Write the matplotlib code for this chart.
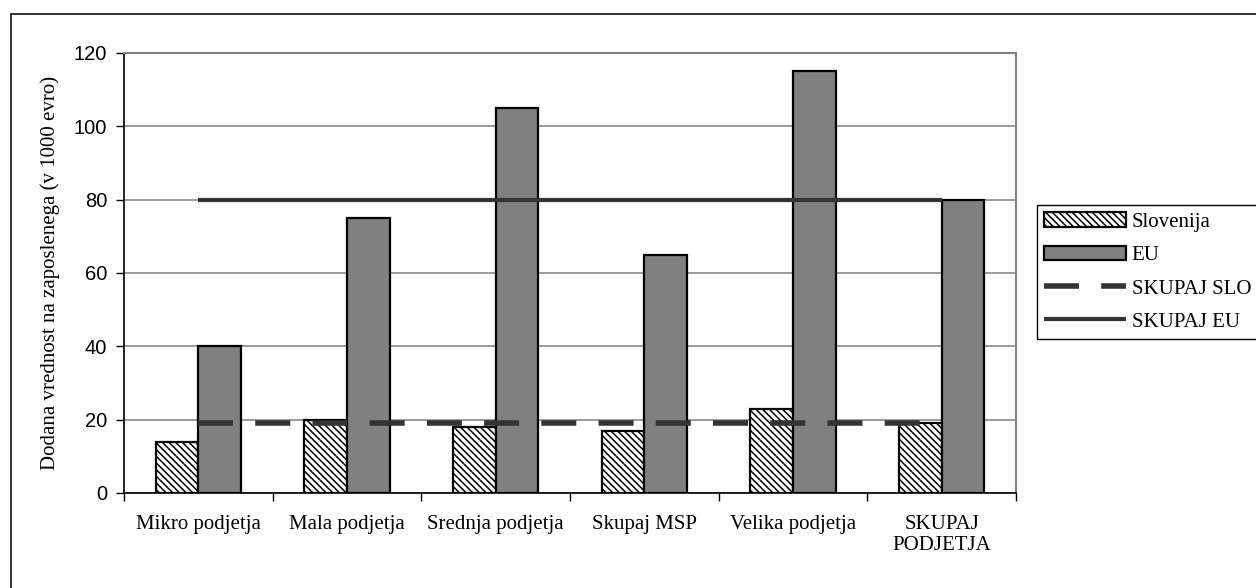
import numpy as np
import matplotlib
matplotlib.use("Agg")
import matplotlib.pyplot as plt
from matplotlib.patches import Rectangle

# data
categories = ["Mikro podjetja", "Mala podjetja", "Srednja podjetja",
              "Skupaj MSP", "Velika podjetja", "SKUPAJ\nPODJETJA"]
slovenija = [14, 20, 18, 17, 23, 19]
eu = [40, 75, 105, 65, 115, 80]
skupaj_slo = [19, 19, 19, 19, 19, 19]
skupaj_eu = [80, 80, 80, 80, 80, 80]
y_ticks = [0, 20, 40, 60, 80, 100, 120]

W, H = 1256, 588
fig = plt.figure(figsize=(W / 100, H / 100), dpi=100)
ax = fig.add_axes([124 / W, 1 - 493 / H, (1016 - 124) / W, (493 - 53) / H])

plt.rcParams['hatch.color'] = '#969696'
plt.rcParams['hatch.linewidth'] = 1.1

x = np.arange(len(categories))
bw = 0.286
b1 = ax.bar(x - bw / 2, slovenija, bw, color='white', edgecolor='black',
            linewidth=1.6, hatch='\\' * 5, label='Slovenija', zorder=3)
b2 = ax.bar(x + bw / 2, eu, bw, color='#808080', edgecolor='black',
            linewidth=1.6, label='EU', zorder=3)
slo_line, = ax.plot(x, skupaj_slo, color='#333333', linewidth=4,
                    solid_capstyle='butt', dash_capstyle='butt',
                    label='SKUPAJ SLO', zorder=4)
slo_line.set_dashes((6.3, 4))
eu_line, = ax.plot(x, skupaj_eu, color='#333333', linewidth=3,
                   solid_capstyle='butt', label='SKUPAJ EU', zorder=4)

ax.set_xlim(-0.5, len(categories) - 0.5)
ax.set_ylim(0, 120)
ax.set_yticks(y_ticks)
ax.yaxis.grid(True, color='#808080', linewidth=1.1, zorder=0)
ax.tick_params(axis='y', direction='out', length=6, width=1, pad=6,
               labelsize=14.5)
for lab in ax.get_yticklabels():
    lab.set_fontfamily('Liberation Sans')

# category boundaries get tick marks, centres get the labels
ax.set_xticks(np.arange(len(categories) + 1) - 0.5)
ax.set_xticklabels([])
ax.tick_params(axis='x', which='major', direction='out', length=6, width=1)
ax.set_xticks(x, minor=True)
ax.set_xticklabels(categories, minor=True, fontfamily='Liberation Serif',
                   fontsize=15, linespacing=1.15)
ax.tick_params(axis='x', which='minor', length=0, pad=16)

ax.set_ylabel("Dodana vrednost na zaposlenega (v 1000 evro)",
              fontfamily='Liberation Serif', fontsize=15)
ax.yaxis.set_label_coords(-0.072, 0.5)

ax.spines['left'].set_color('black')
ax.spines['bottom'].set_color('black')
ax.spines['left'].set_linewidth(1.2)
ax.spines['bottom'].set_linewidth(1.2)
ax.spines['top'].set_color('#808080')
ax.spines['right'].set_color('#808080')
ax.spines['top'].set_linewidth(1.5)
ax.spines['right'].set_linewidth(1.5)

leg = fig.legend(handles=[b1, b2, slo_line, eu_line],
                 loc='upper left', bbox_to_anchor=(1037 / W, 1 - 205 / H),
                 prop={'family': 'Liberation Serif', 'size': 15},
                 fancybox=False, edgecolor='black', framealpha=1,
                 handlelength=3.9, handleheight=0.72, handletextpad=0.3,
                 labelspacing=0.65, borderpad=0.35, borderaxespad=0)
leg.get_frame().set_linewidth(1.0)

# outer chart frame
fig.add_artist(Rectangle((11 / W, -0.1), 1.0, 1.1 - 14 / H,
                         transform=fig.transFigure, fill=False,
                         edgecolor='#222222', linewidth=1.3))

fig.savefig("out.png", dpi=100)
